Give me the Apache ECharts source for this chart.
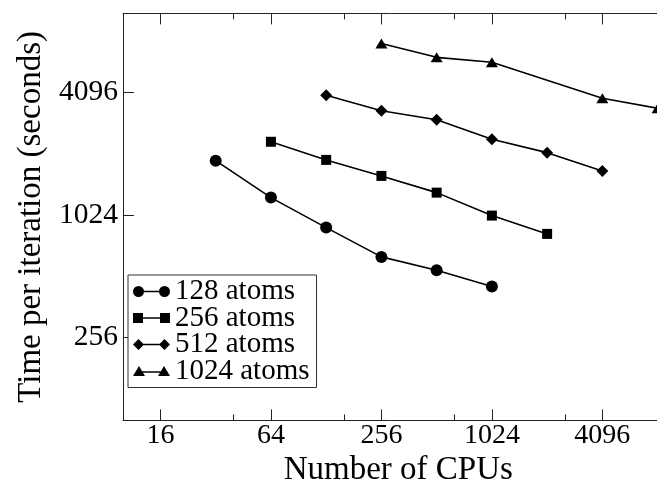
<!DOCTYPE html>
<html>
<head>
<meta charset="utf-8">
<script src="https://cdn.jsdelivr.net/npm/echarts@6/dist/echarts.min.js"></script>
<style>
  html, body { margin: 0; padding: 0; background: #fff; }
  #chart { width: 657px; height: 481px; }
</style>
</head>
<body>
<div id="chart"></div>
<script>
// ---- data ----
const seriesNames = ['128 atoms', '256 atoms', '512 atoms', '1024 atoms'];
const cpus128 = [32, 64, 128, 256, 512, 1024];
const time128 = [1890, 1244, 886, 636, 547, 455];
const cpus256 = [64, 128, 256, 512, 1024, 2048];
const time256 = [2340, 1906, 1590, 1316, 1015, 825];
const cpus512 = [128, 256, 512, 1024, 2048, 4096];
const time512 = [3958, 3326, 3004, 2407, 2069, 1682];
const cpus1024 = [256, 512, 1024, 4096, 8192];
const time1024 = [7113, 6083, 5750, 3826, 3418];
const xTickLabels = [16, 64, 256, 1024, 4096];
const yTickLabels = [256, 1024, 4096];

const FONT = 'Liberation Serif';
const pairs = (xs, ys) => xs.map((x, i) => [x, ys[i]]);

const icons = [
  'path://M0,5.5 A5.5,5.5 0 1,1 11,5.5 A5.5,5.5 0 1,1 0,5.5 Z M10,4.75 H27 V6.25 H10 Z M26,5.5 A5.5,5.5 0 1,1 37,5.5 A5.5,5.5 0 1,1 26,5.5 Z',
  'path://M0,0 H10 V10 H0 Z M10,4.25 H27 V5.75 H10 Z M27,0 H37 V10 H27 Z',
  'path://M0,5.5 L5.5,0 L11,5.5 L5.5,11 Z M10,4.75 H27 V6.25 H10 Z M26,5.5 L31.5,0 L37,5.5 L31.5,11 Z',
  'path://M0,10 L6,0 L12,10 Z M9,5.25 H28 V6.75 H9 Z M25,10 L31,0 L37,10 Z'
];

function isPow(v, base) {
  const l = Math.log(v) / Math.log(base);
  return Math.abs(l - Math.round(l)) < 1e-6;
}
function xLabel(v) {
  const r = Math.round(v);
  return xTickLabels.indexOf(r) >= 0 && isPow(v, 4) ? String(r) : '';
}
function yLabel(v) {
  const r = Math.round(v);
  return yTickLabels.indexOf(r) >= 0 && isPow(v, 4) ? String(r) : '';
}

const axisLine = { show: true, lineStyle: { color: '#222', width: 1 } };
const baseX = {
  type: 'log', logBase: 4, min: 10, max: 10000, splitNumber: 5,
  axisLine: axisLine,
  axisTick: { show: true, inside: true, length: 11, lineStyle: { color: '#222', width: 1 } },
  minorTick: { show: true, splitNumber: 2, length: 6, lineStyle: { color: '#222', width: 1 } },
  splitLine: { show: false }, minorSplitLine: { show: false }
};

const chart = echarts.init(document.getElementById('chart'), null, { renderer: 'canvas' });
chart.setOption({
  animation: false,
  backgroundColor: '#fff',
  textStyle: { fontFamily: FONT, color: '#000' },
  grid: { left: 123, top: 13.4, width: 550.5, height: 407, containLabel: false, outerBoundsMode: 'none' },
  xAxis: [
    Object.assign({}, baseX, {
      position: 'bottom',
      name: 'Number of CPUs', nameLocation: 'middle', nameGap: 25,
      nameTextStyle: { fontFamily: FONT, fontSize: 33, color: '#000' },
      axisLabel: { show: true, margin: 1, fontFamily: FONT, fontSize: 28, color: '#000',
        formatter: xLabel, showMinLabel: false, showMaxLabel: false }
    }),
    Object.assign({}, baseX, {
      position: 'top',
      axisLabel: { show: false }
    })
  ],
  yAxis: {
    type: 'log', logBase: 4, min: 100, max: 10000, splitNumber: 3,
    name: 'Time per iteration (seconds)', nameLocation: 'middle', nameGap: 64,
    nameTextStyle: { fontFamily: FONT, fontSize: 33, color: '#000' },
    axisLine: axisLine,
    axisTick: { show: true, inside: true, length: 11, lineStyle: { color: '#222', width: 1 } },
    splitLine: { show: false },
    axisLabel: { margin: 5, fontFamily: FONT, fontSize: 29.5, color: '#000',
      formatter: yLabel, showMinLabel: false, showMaxLabel: false }
  },
  legend: {
    orient: 'vertical', left: 128, top: 275,
    padding: [2, 7, 2, 5],
    borderColor: '#333', borderWidth: 1, backgroundColor: '#fff',
    itemWidth: 37, itemHeight: 12, itemGap: -2.5,
    symbolKeepAspect: true,
    itemStyle: { borderWidth: 0 },
    textStyle: { fontFamily: FONT, fontSize: 29, color: '#000' },
    data: seriesNames.map((n, i) => ({ name: n, icon: icons[i] }))
  },
  series: [
    { name: seriesNames[0], type: 'line', data: pairs(cpus128, time128), symbol: 'circle', symbolSize: 12 },
    { name: seriesNames[1], type: 'line', data: pairs(cpus256, time256), symbol: 'rect', symbolSize: 10 },
    { name: seriesNames[2], type: 'line', data: pairs(cpus512, time512), symbol: 'diamond', symbolSize: 12 },
    { name: seriesNames[3], type: 'line', data: pairs(cpus1024, time1024), symbol: 'triangle', symbolSize: [12, 10] }
  ].map(s => Object.assign(s, {
    xAxisIndex: 0, yAxisIndex: 0,
    color: '#000',
    lineStyle: { color: '#000', width: 1.6 },
    itemStyle: { color: '#000', borderWidth: 0 },
    emphasis: { disabled: true },
    clip: true
  }))
});
</script>
</body>
</html>
